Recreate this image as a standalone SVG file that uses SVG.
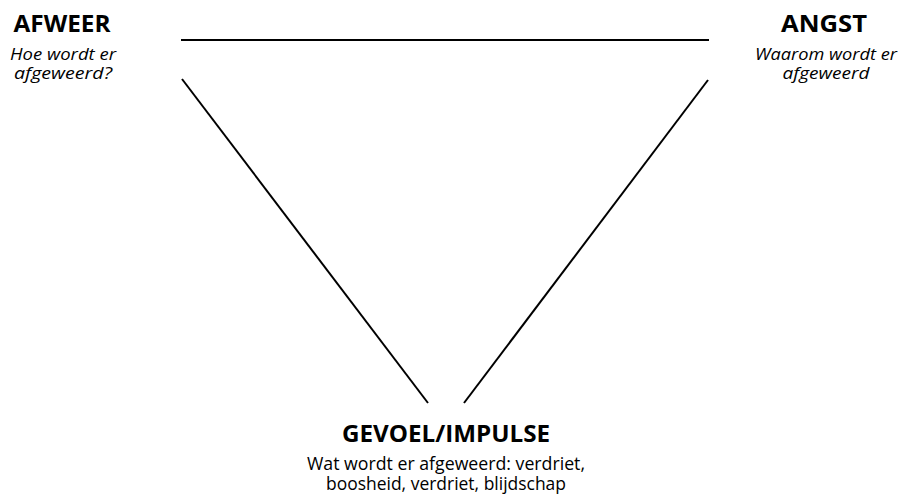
<svg xmlns="http://www.w3.org/2000/svg" width="902" height="495" viewBox="0 0 902 495">
<style>
.t{font-family:"Open Sans","Liberation Sans",sans-serif;fill:#000;text-anchor:middle}
.h{font-weight:bold;font-size:24px}
.i{font-style:italic;font-size:17px}
.b{font-size:18px}
.c{stroke:#000;stroke-width:2;fill:none}
</style>
<rect width="902" height="495" fill="#fff"/>
<g id="afweer">
<text class="t h" x="62" y="32" textLength="97" lengthAdjust="spacingAndGlyphs">AFWEER</text>
<text class="t i" x="63" y="60" textLength="106" lengthAdjust="spacingAndGlyphs">Hoe wordt er</text>
<text class="t i" x="63" y="79" textLength="98" lengthAdjust="spacingAndGlyphs">afgeweerd?</text>
</g>
<g id="angst">
<text class="t h" x="824" y="32" textLength="86" lengthAdjust="spacingAndGlyphs">ANGST</text>
<text class="t i" x="826" y="60" textLength="142" lengthAdjust="spacingAndGlyphs">Waarom wordt er</text>
<text class="t i" x="826" y="79" textLength="87" lengthAdjust="spacingAndGlyphs">afgeweerd</text>
</g>
<g id="gevoel">
<text class="t h" x="446" y="442" textLength="208" lengthAdjust="spacingAndGlyphs">GEVOEL/IMPULSE</text>
<text class="t b" x="446" y="470" textLength="278" lengthAdjust="spacingAndGlyphs">Wat wordt er afgeweerd: verdriet,</text>
<text class="t b" x="446" y="490" textLength="240" lengthAdjust="spacingAndGlyphs">boosheid, verdriet, blijdschap</text>
</g>
<g id="connectors">
<line class="c" x1="181" y1="40" x2="709" y2="40"/>
<line class="c" x1="182" y1="79" x2="428" y2="403"/>
<line class="c" x1="708" y1="80" x2="464" y2="403"/>
</g>
</svg>
